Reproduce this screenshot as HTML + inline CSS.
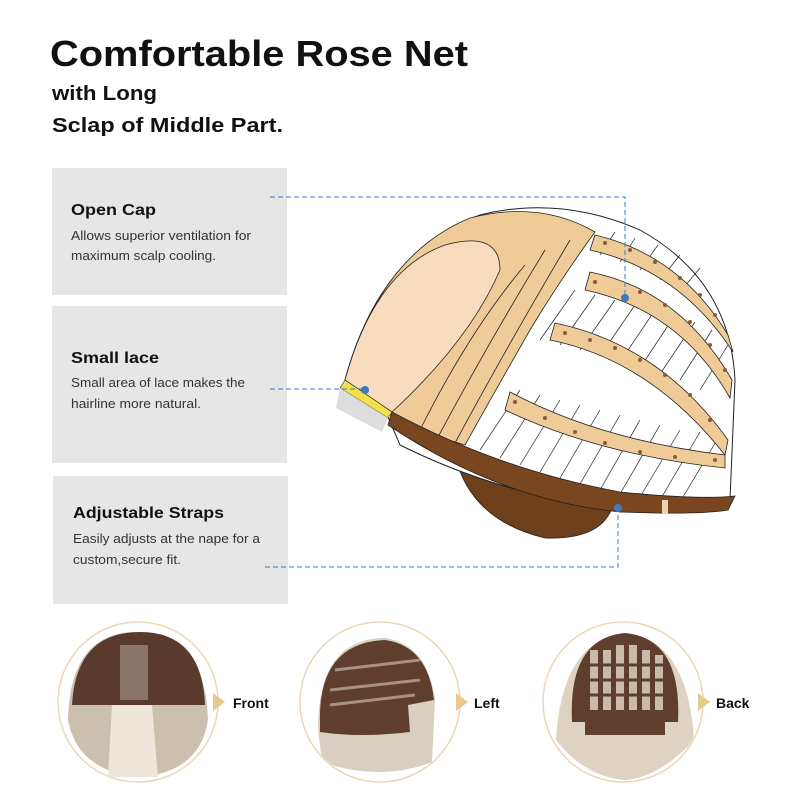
<!DOCTYPE html>
<html><head><meta charset="utf-8"><style>
body{margin:0;background:#fff}
svg{display:block}
text{font-family:"Liberation Sans",sans-serif}
</style></head><body>
<svg width="800" height="800" viewBox="0 0 800 800" xmlns="http://www.w3.org/2000/svg">
<defs>
<clipPath id="c1"><ellipse cx="138" cy="702" rx="79" ry="79"/></clipPath>
<clipPath id="c2"><ellipse cx="380" cy="702" rx="79" ry="79"/></clipPath>
<clipPath id="c3"><ellipse cx="623" cy="702" rx="79" ry="79"/></clipPath>
</defs>
<rect width="800" height="800" fill="#fff"/>
<text x="50" y="66" font-size="36" font-weight="bold" fill="#111" textLength="418" lengthAdjust="spacingAndGlyphs">Comfortable Rose Net</text>
<text x="52" y="100" font-size="20" font-weight="bold" fill="#111" textLength="105" lengthAdjust="spacingAndGlyphs">with Long</text>
<text x="52" y="132" font-size="20" font-weight="bold" fill="#111" textLength="231" lengthAdjust="spacingAndGlyphs">Sclap of Middle Part.</text>

<rect x="52" y="168" width="235" height="127" fill="#e6e6e6"/>
<rect x="52" y="306" width="235" height="157" fill="#e6e6e6"/>
<rect x="53" y="476" width="235" height="128" fill="#e6e6e6"/>
<text x="71" y="215" font-size="15.5" font-weight="bold" fill="#111" textLength="85" lengthAdjust="spacingAndGlyphs">Open Cap</text>
<text x="71" y="240" font-size="12.5" fill="#333" textLength="180" lengthAdjust="spacingAndGlyphs">Allows superior ventilation for</text>
<text x="71" y="260" font-size="12.5" fill="#333" textLength="145" lengthAdjust="spacingAndGlyphs">maximum scalp cooling.</text>
<text x="71" y="363" font-size="15.5" font-weight="bold" fill="#111" textLength="88" lengthAdjust="spacingAndGlyphs">Small lace</text>
<text x="71" y="387" font-size="12.5" fill="#333" textLength="174" lengthAdjust="spacingAndGlyphs">Small area of lace makes the</text>
<text x="71" y="408" font-size="12.5" fill="#333" textLength="130" lengthAdjust="spacingAndGlyphs">hairline more natural.</text>
<text x="73" y="518" font-size="15.5" font-weight="bold" fill="#111" textLength="151" lengthAdjust="spacingAndGlyphs">Adjustable Straps</text>
<text x="73" y="543" font-size="12.5" fill="#333" textLength="187" lengthAdjust="spacingAndGlyphs">Easily adjusts at the nape for a</text>
<text x="73" y="564" font-size="12.5" fill="#333" textLength="108" lengthAdjust="spacingAndGlyphs">custom,secure fit.</text>

<!-- cap -->
<path d="M455 455 Q470 520 545 538 Q600 540 612 508 Z" fill="#6e3f1b" stroke="#222" stroke-width="0.8"/>
<path d="M345 380 Q380 250 480 215 Q560 195 640 230 Q730 280 735 380 L730 500 Q700 512 620 510 Q500 495 400 445 L388 417 Z" fill="#fff" stroke="#222" stroke-width="1"/>
<g stroke="#222" stroke-width="0.7">
<line x1="480" y1="450" x2="520" y2="390"/><line x1="500" y1="458" x2="540" y2="395"/><line x1="520" y1="465" x2="560" y2="400"/>
<line x1="540" y1="472" x2="580" y2="405"/><line x1="560" y1="478" x2="600" y2="410"/><line x1="580" y1="484" x2="620" y2="415"/>
<line x1="600" y1="490" x2="640" y2="420"/><line x1="620" y1="494" x2="660" y2="425"/><line x1="640" y1="497" x2="680" y2="430"/>
<line x1="660" y1="500" x2="700" y2="432"/><line x1="680" y1="502" x2="720" y2="435"/>
<line x1="540" y1="340" x2="575" y2="290"/><line x1="560" y1="345" x2="595" y2="295"/><line x1="580" y1="350" x2="615" y2="300"/>
<line x1="600" y1="356" x2="635" y2="305"/><line x1="620" y1="362" x2="655" y2="310"/><line x1="640" y1="368" x2="675" y2="315"/>
<line x1="660" y1="374" x2="695" y2="322"/><line x1="680" y1="380" x2="712" y2="330"/><line x1="700" y1="390" x2="728" y2="345"/>
<line x1="600" y1="255" x2="615" y2="232"/><line x1="620" y1="262" x2="635" y2="238"/><line x1="640" y1="270" x2="658" y2="245"/><line x1="660" y1="280" x2="680" y2="255"/><line x1="680" y1="292" x2="700" y2="268"/>
</g>
<g fill="#efcb98" stroke="#222" stroke-width="0.8">
<path d="M595 235 Q680 255 728 335 L733 352 Q680 270 590 250 Z"/>
<path d="M590 272 Q680 290 732 380 L730 398 Q680 310 585 290 Z"/>
<path d="M555 323 Q660 345 728 440 L725 455 Q650 360 550 340 Z"/>
<path d="M510 392 Q600 440 725 455 L725 468 Q600 455 505 410 Z"/>
</g>
<g fill="#8a5a3a">
<circle cx="605" cy="243" r="2"/><circle cx="630" cy="250" r="2"/><circle cx="655" cy="262" r="2"/><circle cx="680" cy="278" r="2"/><circle cx="700" cy="295" r="2"/><circle cx="715" cy="315" r="2"/>
<circle cx="595" cy="282" r="2"/><circle cx="640" cy="292" r="2"/><circle cx="665" cy="305" r="2"/><circle cx="690" cy="322" r="2"/><circle cx="710" cy="345" r="2"/><circle cx="725" cy="370" r="2"/>
<circle cx="565" cy="333" r="2"/><circle cx="590" cy="340" r="2"/><circle cx="615" cy="348" r="2"/><circle cx="640" cy="360" r="2"/><circle cx="665" cy="375" r="2"/><circle cx="690" cy="395" r="2"/><circle cx="710" cy="420" r="2"/>
<circle cx="515" cy="402" r="2"/><circle cx="545" cy="418" r="2"/><circle cx="575" cy="432" r="2"/><circle cx="605" cy="443" r="2"/><circle cx="640" cy="452" r="2"/><circle cx="675" cy="457" r="2"/><circle cx="715" cy="460" r="2"/>
</g>
<path d="M345 380 Q380 255 470 218 Q540 200 595 232 Q560 280 530 330 Q490 400 465 445 L400 425 L392 415 Z" fill="#efcb98" stroke="#222" stroke-width="0.8"/>
<path d="M420 430 Q470 330 525 265 M438 437 Q490 340 545 250 M455 443 Q505 350 570 240" fill="none" stroke="#222" stroke-width="0.8"/>
<path d="M345 380 Q375 270 445 245 Q500 230 500 270 Q470 340 392 412 Z" fill="#f8dcbd" stroke="#222" stroke-width="0.8"/>
<path d="M345 380 L392 412 L388 418 L340 388 Z" fill="#f4e14a" stroke="#222" stroke-width="0.6"/>
<path d="M340 388 L388 418 L382 432 L336 408 Z" fill="#ddd"/>
<path d="M392 412 Q500 470 620 492 Q700 500 735 496 L728 510 Q700 515 620 512 Q500 500 388 425 Z" fill="#7a4620" stroke="#222" stroke-width="0.8"/>
<rect x="662" y="500" width="6" height="14" fill="#e8d4b0"/>

<!-- connectors -->
<g stroke="#3b7bbf" stroke-width="1" stroke-dasharray="5,3" fill="none">
<path d="M270 197 H625 V298"/>
<path d="M270 389 H365"/>
<path d="M265 567 H618 V510"/>
</g>
<g fill="#3b7bbf"><circle cx="625" cy="298" r="4"/><circle cx="365" cy="390" r="4"/><circle cx="618" cy="508" r="4"/></g>

<!-- photos -->
<g stroke="#e8d8b8" stroke-width="1.5">
<ellipse cx="138" cy="702" rx="80" ry="80" fill="#fff"/>
<ellipse cx="380" cy="702" rx="80" ry="80" fill="#fff"/>
<ellipse cx="623" cy="702" rx="80" ry="80" fill="#fff"/>
</g>
<g clip-path="url(#c1)">
<path d="M68 720 Q70 630 140 632 Q205 632 208 720 Q200 772 140 777 Q78 772 68 720Z" fill="#cbbfae"/>
<path d="M72 705 Q76 632 140 632 Q202 632 205 705Z" fill="#5a3a2c"/>
<rect x="120" y="645" width="28" height="55" fill="#8a7468"/>
<path d="M112 705 L152 705 L158 777 L108 777Z" fill="#eee6da"/>
</g>
<g clip-path="url(#c2)">
<path d="M318 730 Q318 638 385 638 Q428 645 435 700 L432 762 Q380 782 322 762Z" fill="#d8cfc0"/>
<path d="M320 722 Q318 643 385 640 Q428 646 434 700 L408 705 L410 732 Q360 738 320 732Z" fill="#5f3e2d"/>
<g stroke="#a89080" stroke-width="3"><line x1="330" y1="690" x2="420" y2="680"/><line x1="330" y1="705" x2="415" y2="695"/><line x1="335" y1="670" x2="420" y2="660"/></g>
</g>
<g clip-path="url(#c3)">
<path d="M556 740 Q562 640 625 633 Q688 640 694 740 Q660 777 625 780 Q585 777 556 740Z" fill="#ddd3c0"/>
<path d="M572 722 Q568 638 625 633 Q682 638 678 722Z" fill="#5f3e2d"/>
<g fill="#c9bba8">
<rect x="590" y="650" width="8" height="60"/><rect x="603" y="650" width="8" height="60"/><rect x="616" y="645" width="8" height="65"/><rect x="629" y="645" width="8" height="65"/><rect x="642" y="650" width="8" height="60"/><rect x="655" y="655" width="8" height="55"/>
</g>
<g stroke="#5f3e2d" stroke-width="3"><line x1="580" y1="665" x2="670" y2="665"/><line x1="580" y1="680" x2="672" y2="680"/><line x1="580" y1="695" x2="672" y2="695"/></g>
<rect x="585" y="720" width="80" height="15" fill="#5f3e2d"/>
</g>
<g fill="#e8c98e"><path d="M213 693 L225 702 L213 711Z"/><path d="M456 693 L468 702 L456 711Z"/><path d="M698 693 L710 702 L698 711Z"/></g>
<text x="233" y="708" font-size="14" font-weight="bold" fill="#111">Front</text>
<text x="474" y="708" font-size="14" font-weight="bold" fill="#111">Left</text>
<text x="716" y="708" font-size="14" font-weight="bold" fill="#111">Back</text>
</svg>
</body></html>
